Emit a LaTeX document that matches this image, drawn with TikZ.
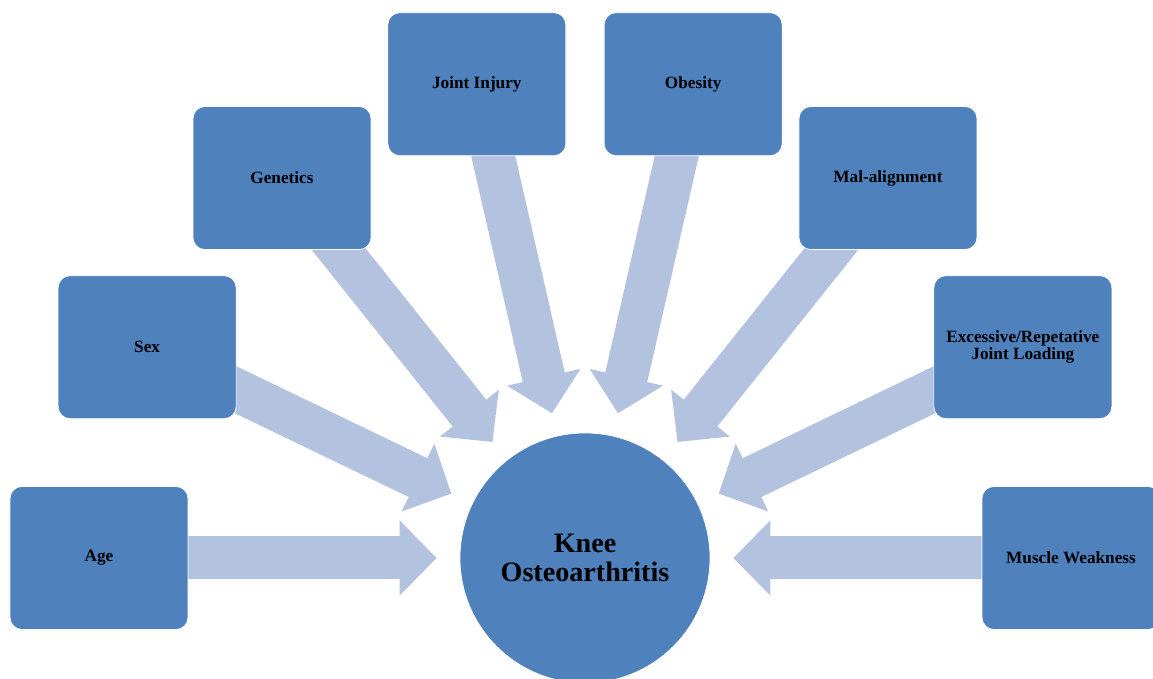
\documentclass[tikz,border=0pt]{standalone}
\usepackage{fontspec}
\setmainfont{Liberation Serif}
\usetikzlibrary{arrows.meta, backgrounds}
\definecolor{oablue}{RGB}{79, 129, 189}
\definecolor{oalight}{RGB}{179, 194, 222}

\begin{document}
\begin{tikzpicture}[
    factor/.style={rectangle, draw=white, fill=oablue, minimum width=3.56cm,
        minimum height=2.86cm, rounded corners=0.24cm, align=center,
        font=\fontsize{9.8}{9.7}\selectfont\bfseries},
    knee/.style={circle, draw=white, fill=oablue, minimum size=5cm, inner sep=0pt,
        align=center, font=\fontsize{16}{17}\selectfont\bfseries},
    arrow/.style={oalight, line width=0.86cm,
        -{Triangle[width=1.46cm, length=0.74cm]}, shorten >=0.46cm}
]
    \useasboundingbox (-11.7,-2.42) rectangle (11.36,11.16);

    % Centre
    \node[knee] (oa) at (0,0) {Knee\\Osteoarthritis};

    % Risk factors on a half circle
    \node[factor] (age) at (180:9.72) {Age};
    \node[factor] (sex) at (154.29:9.72) {Sex};
    \node[factor] (genetics) at (128.57:9.72) {Genetics};
    \node[factor] (injury) at (102.86:9.72) {Joint Injury};
    \node[factor] (obesity) at (77.14:9.72) {Obesity};
    \node[factor] (malalign) at (51.43:9.72) {Mal-alignment};
    \node[factor] (loading) at (25.71:9.72) {Excessive/Repetative\\Joint Loading};
    \node[factor] (muscle) at (0:9.72) {Muscle Weakness};

    % Arrows
    \begin{scope}[on background layer]
        \draw[arrow] (age.center) -- (oa);
        \draw[arrow] (sex.center) -- (oa);
        \draw[arrow] (genetics.center) -- (oa);
        \draw[arrow] (injury.center) -- (oa);
        \draw[arrow] (obesity.center) -- (oa);
        \draw[arrow] (malalign.center) -- (oa);
        \draw[arrow] (loading.center) -- (oa);
        \draw[arrow] (muscle.center) -- (oa);
    \end{scope}
\end{tikzpicture}
\end{document}
